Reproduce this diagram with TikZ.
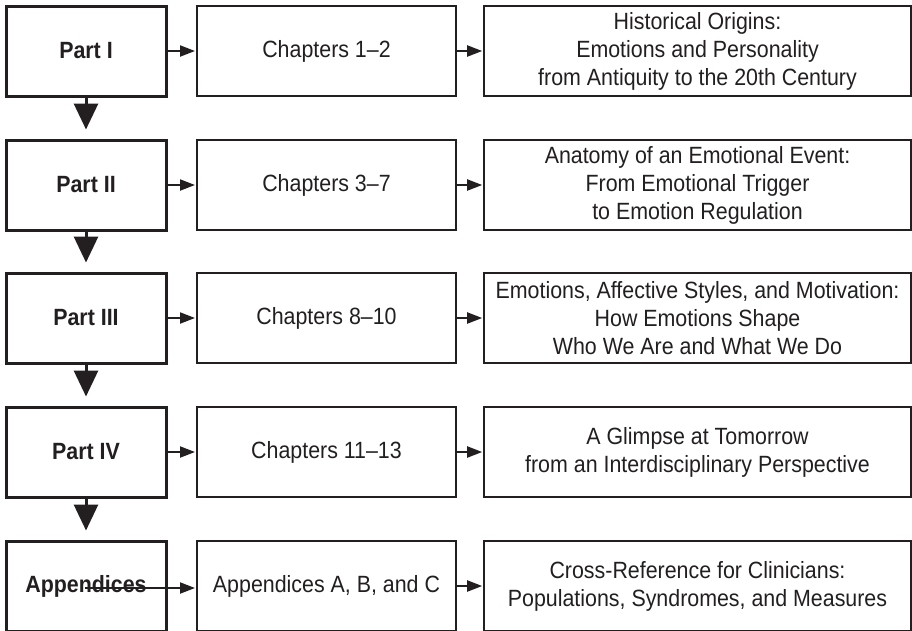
\documentclass[tikz,border=0pt]{standalone}
\usepackage{fontspec}
\setmainfont[FakeStretch=0.91]{Liberation Sans}
\usetikzlibrary{arrows.meta}
\definecolor{ink}{HTML}{231F20}
\begin{document}
\begin{tikzpicture}[x=1pt,y=-1pt,
  basefont/.style={font=\fontsize{23.5}{28}\selectfont, text=ink},
  partbox/.style={basefont, draw=ink, line width=3pt, minimum width=160pt, minimum height=90pt, inner sep=0pt, font=\fontsize{23.5}{28}\selectfont\bfseries},
  chapbox/.style={basefont, draw=ink, line width=2pt, minimum width=259pt, minimum height=90pt, inner sep=0pt},
  descbox/.style={basefont, draw=ink, line width=1.6pt, minimum width=427pt, minimum height=90pt, inner sep=0pt, align=center},
  downarrow/.style={draw=ink, line width=3pt, -{Triangle[width=24pt,length=26pt]}, shorten >=9pt},
  rightarrow/.style={draw=ink, line width=2pt, -{Triangle[width=11pt,length=15pt]}, shorten >=1pt},
]
\useasboundingbox (0,0) rectangle (912,630);
\fill[white] (0,0) rectangle (912,630);

\node[partbox] (p1) at (86,51) {Part I};
\node[partbox] (p2) at (86,185) {Part II};
\node[partbox] (p3) at (86,318) {Part III};
\node[partbox] (p4) at (86,452) {Part IV};
\node[partbox] (p5) at (86,586) {Appendices};

\node[chapbox] (c1) at (326.5,51) {Chapters 1–2};
\node[chapbox] (c2) at (326.5,185) {Chapters 3–7};
\node[chapbox] (c3) at (326.5,318) {Chapters 8–10};
\node[chapbox] (c4) at (326.5,452) {Chapters 11–13};
\node[chapbox] (c5) at (326.5,586) {Appendices A, B, and C};

\node[descbox] (d1) at (697.5,51) {Historical Origins:\\Emotions and Personality\\from Antiquity to the 20th Century};
\node[descbox] (d2) at (697.5,185) {Anatomy of an Emotional Event:\\From Emotional Trigger\\to Emotion Regulation};
\node[descbox] (d3) at (697.5,318) {Emotions, Affective Styles, and Motivation:\\How Emotions Shape\\Who We Are and What We Do};
\node[descbox] (d4) at (697.5,452) {A Glimpse at Tomorrow\\from an Interdisciplinary Perspective};
\node[descbox] (d5) at (697.5,586) {Cross-Reference for Clinicians:\\Populations, Syndromes, and Measures};

\draw[downarrow] (p1) -- (p2);
\draw[downarrow] (p2) -- (p3);
\draw[downarrow] (p3) -- (p4);
\draw[downarrow] (p4) -- (p5);

\draw[rightarrow] (p1) -- (c1);
\draw[rightarrow] (p2) -- (c2);
\draw[rightarrow] (p3) -- (c3);
\draw[rightarrow] (p4) -- (c4);
\coordinate (appstart) at (85,588);
\draw[rightarrow] (appstart) -- (c5.west |- appstart);

\draw[rightarrow] (c1) -- (d1);
\draw[rightarrow] (c2) -- (d2);
\draw[rightarrow] (c3) -- (d3);
\draw[rightarrow] (c4) -- (d4);
\draw[rightarrow] (c5) -- (d5);
\end{tikzpicture}
\end{document}
